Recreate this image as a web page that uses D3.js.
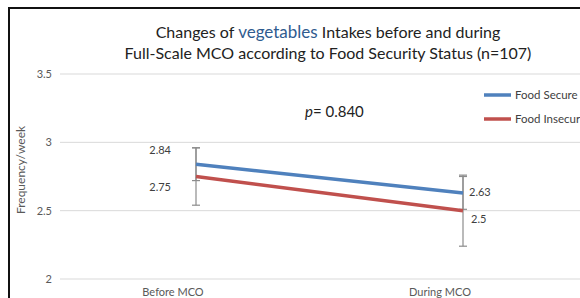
<!DOCTYPE html>
<html>
<head>
<meta charset="utf-8">
<script src="https://cdn.jsdelivr.net/npm/d3@7"></script>
<style>
  body { margin: 0; background: #fff; }
  svg { display: block; font-family: Lato, "Open Sans", sans-serif; }
</style>
</head>
<body>
<svg width="580" height="298"></svg>
<script>
var categories = ["Before MCO", "During MCO"];
var seriesNames = ["Food Secure", "Food Insecure"];
var secure = [2.84, 2.63];
var insecure = [2.75, 2.5];
var secureErr = [0.12, 0.12];
var insecureErr = [0.21, 0.26];
var yTicks = [2, 2.5, 3, 3.5];
var colors = ["#4f81bd", "#c0504d"];

var svg = d3.select("svg");

// chart frame (only left and top edge visible)
svg.append("path")
    .attr("d", "M9,298 V8 H580")
    .attr("fill", "none")
    .attr("stroke", "#111")
    .attr("stroke-width", 2);

var y = d3.scaleLinear().domain([2, 3.5]).range([279, 74]);
var x = d3.scalePoint().domain(categories).range([196, 463]);

// gridlines
svg.selectAll(".grid")
    .data(yTicks)
    .enter().append("line")
    .attr("x1", 60).attr("x2", 580)
    .attr("y1", function(d) { return y(d); })
    .attr("y2", function(d) { return y(d); })
    .attr("stroke", "#d9d9d9")
    .attr("stroke-width", 1);

svg.selectAll(".ytick")
    .data(yTicks)
    .enter().append("text")
    .attr("x", 52)
    .attr("y", function(d) { return y(d) + 4; })
    .attr("text-anchor", "end")
    .attr("font-size", 11)
    .attr("fill", "#595959")
    .text(function(d) { return d; });

svg.append("text")
    .attr("transform", "translate(25,170) rotate(-90)")
    .attr("text-anchor", "middle")
    .attr("font-size", 12)
    .attr("fill", "#595959")
    .text("Frequency/week");

// category labels
svg.selectAll(".xlab")
    .data(categories)
    .enter().append("text")
    .attr("x", function(d) { return x(d) - 23; })
    .attr("y", 296)
    .attr("text-anchor", "middle")
    .attr("font-size", 11)
    .attr("fill", "#595959")
    .text(function(d) { return d; });

// title
var title = svg.append("text")
    .attr("text-anchor", "middle")
    .attr("font-size", 16)
    .attr("fill", "#222");
var t1 = title.append("tspan").attr("x", 328).attr("y", 38);
t1.append("tspan").text("Changes of ");
t1.append("tspan").attr("fill", "#2f5b8f").attr("font-size", 17).text("vegetables");
t1.append("tspan").text(" Intakes before and during");
title.append("tspan").attr("x", 328).attr("y", 59)
    .text("Full-Scale MCO according to Food Security Status (n=107)");

// p value
var p = svg.append("text")
    .attr("x", 305).attr("y", 117)
    .attr("font-size", 15)
    .attr("fill", "#222");
p.append("tspan").attr("font-style", "italic").text("p");
p.append("tspan").text("= 0.840");

// error bars
var errs = [
    { v: secure, e: secureErr },
    { v: insecure, e: insecureErr }
];
errs.forEach(function(s) {
    categories.forEach(function(c, i) {
        var cx = x(c), top = y(s.v[i] + s.e[i]), bot = y(s.v[i] - s.e[i]);
        var g = svg.append("g").attr("stroke", "#8c8c8c").attr("stroke-width", 1.2);
        g.append("line").attr("x1", cx).attr("x2", cx).attr("y1", top).attr("y2", bot);
        g.append("line").attr("x1", cx - 4).attr("x2", cx + 4).attr("y1", top).attr("y2", top);
        g.append("line").attr("x1", cx - 4).attr("x2", cx + 4).attr("y1", bot).attr("y2", bot);
    });
});

// lines
var line = d3.line()
    .x(function(d, i) { return x(categories[i]); })
    .y(function(d) { return y(d); });

[secure, insecure].forEach(function(s, k) {
    svg.append("path")
        .datum(s)
        .attr("d", line)
        .attr("fill", "none")
        .attr("stroke", colors[k])
        .attr("stroke-width", 3.5);
});

// data labels
var labelData = [
    { text: secure[0], x: x(categories[0]) - 25, y: y(secure[0]) - 10, anchor: "end" },
    { text: insecure[0], x: x(categories[0]) - 25, y: y(insecure[0]) + 14, anchor: "end" },
    { text: secure[1], x: x(categories[1]) + 6, y: y(secure[1]) + 3, anchor: "start" },
    { text: insecure[1], x: x(categories[1]) + 8, y: y(insecure[1]) + 12, anchor: "start" }
];
svg.selectAll(".dlab")
    .data(labelData)
    .enter().append("text")
    .attr("x", function(d) { return d.x; })
    .attr("y", function(d) { return d.y; })
    .attr("text-anchor", function(d) { return d.anchor; })
    .attr("font-size", 11)
    .attr("fill", "#404040")
    .text(function(d) { return d.text; });

// legend
var legend = svg.selectAll(".leg")
    .data(seriesNames)
    .enter().append("g")
    .attr("transform", function(d, i) { return "translate(484," + (95 + i * 24) + ")"; });
legend.append("line")
    .attr("x1", 0).attr("x2", 27)
    .attr("stroke", function(d, i) { return colors[i]; })
    .attr("stroke-width", 3.5);
legend.append("text")
    .attr("x", 31).attr("y", 4)
    .attr("font-size", 11.5)
    .attr("fill", "#404040")
    .text(function(d) { return d; });
</script>
</body>
</html>
